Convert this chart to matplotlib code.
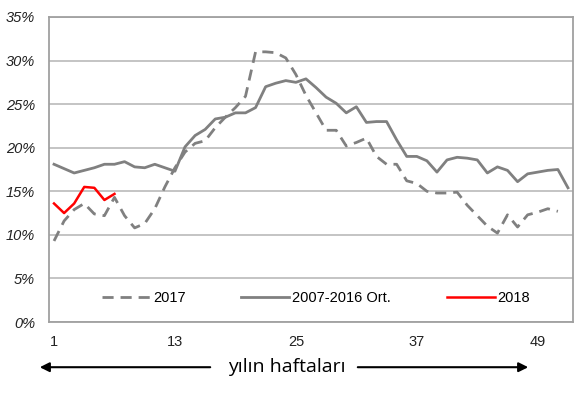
import numpy as np
import matplotlib.pyplot as plt

### Data ###
weeks_avg = list(range(1, 53))
avg_0716 = [18.1, 17.6, 17.1, 17.4, 17.7, 18.1, 18.1, 18.4, 17.8, 17.7,
            18.1, 17.7, 17.3, 20.1, 21.4, 22.1, 23.3, 23.5, 24.0, 24.0,
            24.6, 27.0, 27.4, 27.7, 27.5, 27.9, 26.9, 25.8, 25.1, 24.0,
            24.7, 22.9, 23.0, 23.0, 20.9, 19.0, 19.0, 18.5, 17.2, 18.6,
            18.9, 18.8, 18.6, 17.1, 17.8, 17.4, 16.1, 17.0, 17.2, 17.4,
            17.5, 15.4]

weeks_2017 = list(range(1, 52))
y2017 = [9.3, 11.6, 12.9, 13.6, 12.4, 12.2, 14.3, 12.2, 10.8, 11.3,
         13.0, 15.5, 17.7, 19.5, 20.5, 20.8, 22.3, 23.5, 24.6, 25.9,
         31.0, 31.0, 30.9, 30.3, 28.4, 26.0, 24.0, 22.0, 22.0, 20.2,
         20.6, 21.1, 19.0, 18.1, 18.1, 16.2, 15.9, 15.0, 14.8, 14.8,
         14.9, 13.4, 12.2, 11.0, 10.2, 12.3, 10.9, 12.3, 12.6, 13.0,
         12.7]

weeks_2018 = list(range(1, 8))
y2018 = [13.6, 12.5, 13.6, 15.5, 15.4, 14.0, 14.7]

xticks = [1, 13, 25, 37, 49]
yticks = [0, 5, 10, 15, 20, 25, 30, 35]

### Plot ###
plt.rcParams['font.family'] = ['Liberation Sans', 'DejaVu Sans']

fig = plt.figure(figsize=(5.88, 3.94), dpi=100)
ax = fig.add_axes([0.0833, 0.1827, 0.8912, 0.7742])

grid_c = '#bfbfbf'
for v in yticks:
    ax.axhline(v, color=grid_c, lw=1.3, zorder=1)

ax.plot(weeks_2017, y2017, color='#808080', lw=2.0, ls=(0, (4, 2.5)), label='2017', zorder=3)
ax.plot(weeks_avg, avg_0716, color='#808080', lw=2.0, label='2007-2016 Ort.', zorder=3)
ax.plot(weeks_2018, y2018, color='#ff0000', lw=1.8, label='2018', zorder=4)

ax.set_xlim(0.5, 52.5)
ax.set_ylim(0, 35)
ax.set_xticks(xticks)
ax.set_xticklabels([str(x) for x in xticks], fontsize=10.5)
ax.set_yticks(yticks)
ax.set_yticklabels(['%d%%' % v for v in yticks], fontsize=10.5, style='italic')
ax.tick_params(length=0, pad=10, colors='#222222')
ax.tick_params(axis='x', pad=9)
for s in ax.spines.values():
    s.set_color('#a0a0a0')
    s.set_linewidth(1.3)

ax.legend(loc='center', bbox_to_anchor=(0.51, 0.08), ncol=3, frameon=False,
          fontsize=10.5, handlelength=3.3, handletextpad=0.2, columnspacing=3.8)

## x axis caption with arrows
fig.text(0.487, 0.068, 'yılın haftaları', ha='center', va='center',
         fontsize=14, family=['Open Sans', 'DejaVu Sans'])
ax.annotate('', xy=(37 / 588, 0.068), xytext=(213 / 588, 0.068),
            xycoords='figure fraction', textcoords='figure fraction',
            arrowprops=dict(arrowstyle='-|>', color='black', lw=1.5, mutation_scale=14))
ax.annotate('', xy=(531 / 588, 0.068), xytext=(355 / 588, 0.068),
            xycoords='figure fraction', textcoords='figure fraction',
            arrowprops=dict(arrowstyle='-|>', color='black', lw=1.5, mutation_scale=14))

fig.savefig('out.png', dpi=100)
